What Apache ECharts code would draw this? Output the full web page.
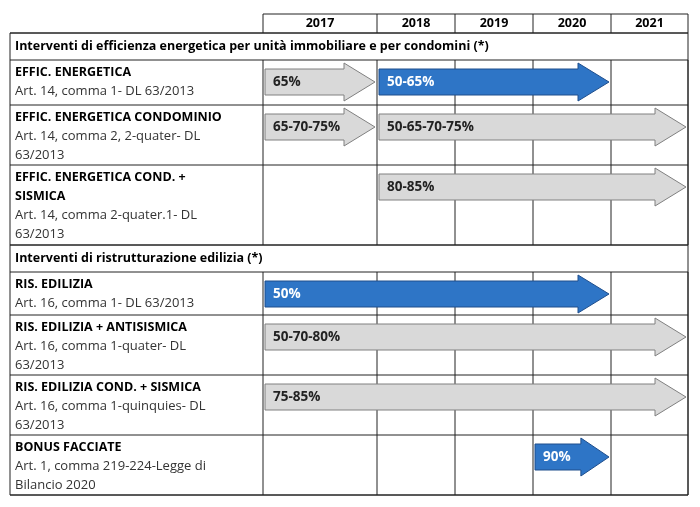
<!DOCTYPE html>
<html><head><meta charset="utf-8">
<script src="https://cdn.jsdelivr.net/npm/echarts@6/dist/echarts.min.js"></script>
<style>html,body{margin:0;background:#fff}#c{width:700px;height:507px}</style>
</head><body><div id="c"></div>
<script>
const years = ['2017','2018','2019','2020','2021'];
const sections = ['Interventi di efficienza energetica per unità immobiliare e per condomini (*)','Interventi di ristrutturazione edilizia (*)'];
const rowTitles = ['EFFIC. ENERGETICA','EFFIC. ENERGETICA CONDOMINIO','EFFIC. ENERGETICA COND. +\nSISMICA','RIS. EDILIZIA','RIS. EDILIZIA + ANTISISMICA','RIS. EDILIZIA COND. + SISMICA','BONUS FACCIATE'];
const rowRefs = ['Art. 14, comma 1- DL 63/2013','Art. 14, comma 2, 2-quater- DL\n63/2013','Art. 14, comma 2-quater.1- DL\n63/2013','Art. 16, comma 1- DL 63/2013','Art. 16, comma 1-quater- DL\n63/2013','Art. 16, comma 1-quinquies- DL\n63/2013','Art. 1, comma 219-224-Legge di\nBilancio 2020'];
// arrows: row index, start year, end year (exclusive), label, highlighted
const arrowRow   = [0, 0, 1, 1, 2, 3, 4, 5, 6];
const arrowStart = [2017, 2018, 2017, 2018, 2018, 2017, 2017, 2017, 2020];
const arrowEnd   = [2018, 2021, 2018, 2022, 2022, 2021, 2022, 2022, 2021];
const arrowLabel = ['65%','50-65%','65-70-75%','50-65-70-75%','80-85%','50%','50-70-80%','75-85%','90%'];
const arrowBlue  = [false, true, false, false, false, true, false, false, true];

// layout (px-like axis units)
const colEdges = [0,114,192,270,348,425];
const LEFT = -253;
const secRows = [[19,46],[231,258]];
const dataRows = [[46,91],[91,151],[151,231],[258,301],[301,361],[361,421],[421,481]];

function yx(y){return colEdges[y-2017];}
const chart = echarts.init(document.getElementById('c'));
const FONT = '"Open Sans", "Liberation Sans", sans-serif';

function renderTable(params, api){
  const ch = [];
  const P = (x,y)=>api.coord([x,y]);
  const line=(x1,y1,x2,y2)=>{const a=P(x1,y1),b=P(x2,y2);ch.push({type:'line',shape:{x1:a[0],y1:a[1],x2:b[0],y2:b[1]},style:{stroke:'#222',lineWidth:1}});};
  line(0,0,425,0);
  colEdges.forEach(e=>line(e,0,e,19));
  years.forEach((y,i)=>{const c=P((colEdges[i]+colEdges[i+1])/2,9.5);ch.push({type:'text',x:c[0],y:c[1],style:{text:y,align:'center',verticalAlign:'middle',font:'bold 12.5px '+FONT,fill:'#000'}});});
  line(LEFT,19,425,19); line(LEFT,481,425,481); line(LEFT,19,LEFT,481); line(425,19,425,481);
  secRows.forEach((r,i)=>{line(LEFT,r[1],425,r[1]); line(LEFT,r[0],425,r[0]);
    const p=P(LEFT+5,(r[0]+r[1])/2);ch.push({type:'text',x:p[0],y:p[1],style:{text:sections[i],verticalAlign:'middle',font:'bold 12.5px '+FONT,fill:'#000'}});});
  dataRows.forEach((r,i)=>{line(LEFT,r[1],425,r[1]);
    colEdges.forEach(e=>line(e,r[0],e,r[1]));
    const p=P(LEFT+5,r[0]+3);
    ch.push({type:'text',x:p[0],y:p[1],style:{text:rowTitles[i],font:'bold 12.5px '+FONT,fill:'#000',lineHeight:19}});
    const nl=rowTitles[i].split('\n').length;
    const q=P(LEFT+5,r[0]+3+19*nl);
    ch.push({type:'text',x:q[0],y:q[1],style:{text:rowRefs[i],font:'13px '+FONT,fill:'#333',lineHeight:19}});
  });
  return {type:'group',children:ch};
}
function renderArrow(params, api){
  const i=params.dataIndex;
  const r=dataRows[arrowRow[i]];
  const a=api.coord([yx(arrowStart[i]),r[0]]); const b=api.coord([yx(arrowEnd[i]),r[0]]);
  const yTop=a[1];
  const L=a[0]+2, R=b[0]-2, w=R-L;
  const head=Math.min(31,0.38*w);
  const cy=yTop+22, bh=13, hh=19;
  const pts=[[L,cy-bh],[R-head,cy-bh],[R-head,cy-hh],[R,cy],[R-head,cy+hh],[R-head,cy+bh],[L,cy+bh]];
  const blue=arrowBlue[i];
  return {type:'group',children:[
    {type:'polygon',shape:{points:pts},style:{fill:blue?'#2E75C6':'#D9D9D9',stroke:blue?'#1F4E8C':'#808080',lineWidth:1}},
    {type:'text',x:L+8,y:cy,style:{text:arrowLabel[i],verticalAlign:'middle',font:'bold 13.5px '+FONT,fill:blue?'#fff':'#222'}}
  ]};
}
chart.setOption({
  animation:false,
  grid:{left:10,right:12,top:14,bottom:12},
  xAxis:{type:'value',min:LEFT,max:425,show:false},
  yAxis:{type:'value',min:0,max:481,inverse:true,show:false},
  series:[
    {type:'custom',renderItem:renderTable,data:[[0,0]],clip:false},
    {type:'custom',renderItem:renderArrow,data:arrowLabel.map((l,i)=>[yx(arrowStart[i]),dataRows[arrowRow[i]][0]]),clip:false}
  ]
});
</script></body></html>
